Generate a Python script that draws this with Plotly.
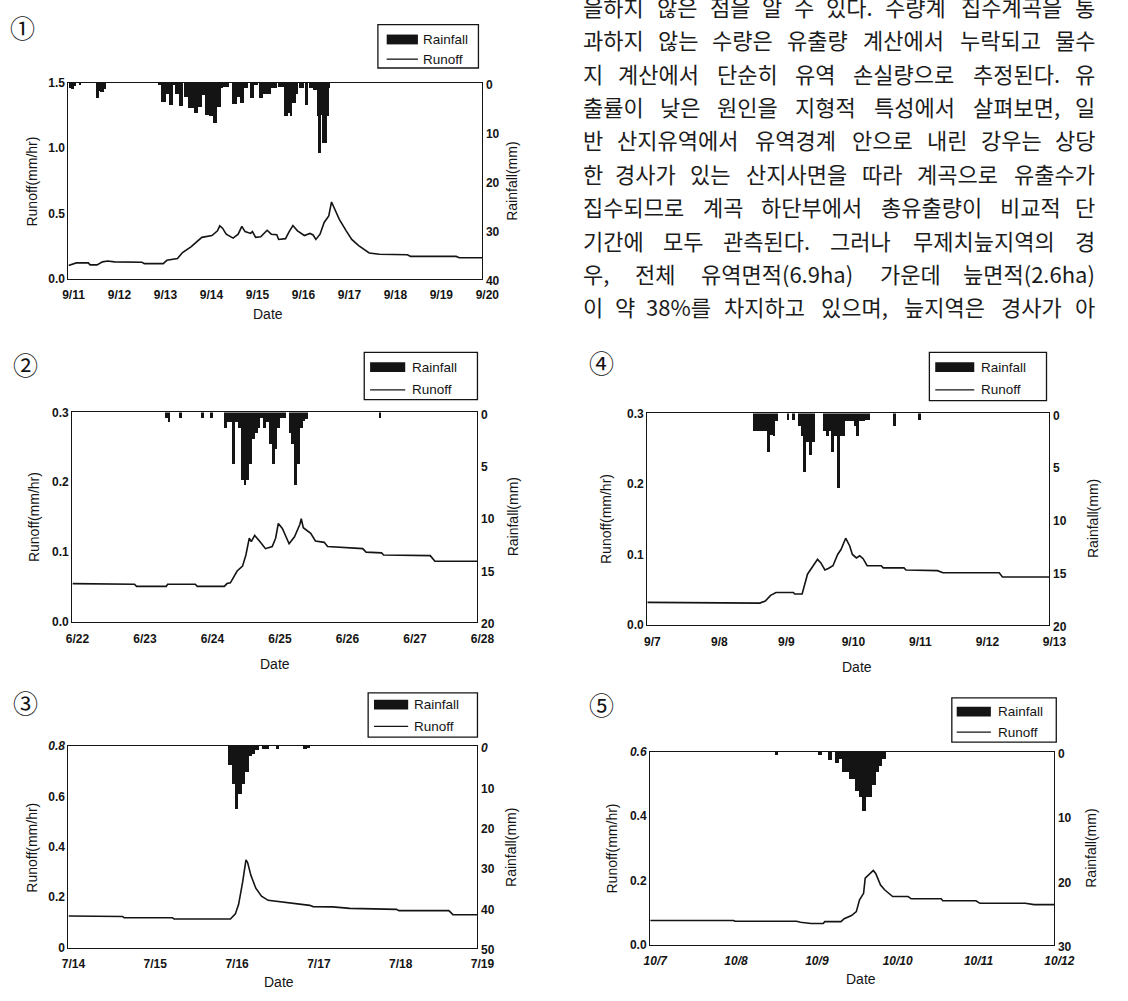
import plotly.graph_objects as go

W, H = 1128, 1001

# ---------------- data ----------------
# Panel 1 : 9/11 - 9/20
p1_dates = ["9/11", "9/12", "9/13", "9/14", "9/15", "9/16", "9/17", "9/18", "9/19", "9/20"]
p1_runoff_t = [0, 0.17, 0.43, 0.47, 0.62, 0.74, 0.85, 1.0, 1.6, 1.65, 2.06, 2.14, 2.37, 2.48, 2.67,
               2.9, 3.12, 3.24, 3.29, 3.35, 3.43, 3.58, 3.69, 3.77, 3.84, 3.96, 4.0, 4.07, 4.18,
               4.32, 4.41, 4.53, 4.57, 4.72, 4.79, 4.88, 4.98, 5.13, 5.25, 5.32, 5.38, 5.47, 5.56,
               5.66, 5.72, 5.78, 5.89, 6.04, 6.16, 6.31, 6.54, 6.76, 7.37, 7.44, 8.43, 8.5, 9.0]
p1_runoff_q = [0.10, 0.12, 0.12, 0.105, 0.105, 0.128, 0.135, 0.128, 0.125, 0.115, 0.115, 0.14,
               0.153, 0.20, 0.245, 0.316, 0.33, 0.366, 0.404, 0.386, 0.34, 0.31, 0.34, 0.40,
               0.36, 0.346, 0.36, 0.316, 0.32, 0.37, 0.34, 0.336, 0.30, 0.306, 0.354, 0.406,
               0.366, 0.33, 0.346, 0.334, 0.30, 0.34, 0.43, 0.48, 0.587, 0.54, 0.454, 0.366,
               0.30, 0.253, 0.196, 0.186, 0.183, 0.17, 0.17, 0.16, 0.16]
p1_rain_hour = [1, 2, 3, 6, 15, 16, 17, 18, 19, 47, 48, 49, 50, 51, 52, 53, 54, 55, 56, 57, 58,
                59, 61, 62, 63, 64, 65, 66, 67, 68, 69, 70, 71, 72, 73, 74, 75, 76, 77, 78, 79,
                80, 81, 82, 83, 86, 87, 88, 89, 90, 91, 92, 93, 95, 96, 97, 98, 100, 101, 102,
                103, 104, 105, 106, 107, 108, 110, 111, 112, 113, 114, 115, 116, 117, 118, 119,
                121, 122, 124, 126, 127, 128, 129, 130, 131, 132, 133, 134, 135, 136]
p1_rain_mm = [1.0, 1.2, 0.6, 0.5, 3.1, 1.6, 1.8, 1.8, 1.2, 0.3, 0.5, 3.8, 3.8, 2.3, 2.3, 4.5,
              4.5, 0.5, 2.3, 2.2, 4.7, 4.7, 2.8, 2.8, 5.1, 5.1, 5.1, 6.2, 6.2, 4.8, 4.8, 2.5,
              2.5, 6.5, 6.5, 6.8, 6.8, 8.2, 8.2, 4.8, 4.8, 1.1, 0.8, 0.8, 0.8, 4.3, 4.3, 2.8,
              2.8, 4.1, 4.1, 1.1, 1.1, 3.1, 3.1, 0.5, 0.5, 3.0, 3.0, 2.3, 2.3, 2.3, 2.3, 1.1,
              1.1, 1.1, 0.8, 0.8, 0.8, 6.8, 6.8, 6.2, 6.8, 4.1, 4.1, 2.3, 1.1, 1.1, 4.5, 1.1,
              1.1, 1.4, 1.4, 6.8, 14.2, 6.5, 12.2, 12.2, 6.8, 1.1]
p1_runoff_ticks = [0.0, 0.5, 1.0, 1.5]
p1_runoff_labels = ["0.0", "0.5", "1.0", "1.5"]
p1_rain_ticks = [0, 10, 20, 30, 40]
p1_rain_labels = ["0", "10", "20", "30", "40"]

# Panel 2 : 6/22 - 6/28
p2_dates = ["6/22", "6/23", "6/24", "6/25", "6/26", "6/27", "6/28"]
p2_runoff_t = [0, 0.92, 0.95, 1.39, 1.41, 1.82, 1.85, 2.25, 2.29, 2.34, 2.44, 2.52, 2.57, 2.62,
               2.65, 2.70, 2.78, 2.86, 2.96, 3.01, 3.05, 3.11, 3.21, 3.29, 3.37, 3.39, 3.42,
               3.53, 3.60, 3.73, 3.78, 4.30, 4.35, 4.58, 4.61, 5.30, 5.37, 6.0]
p2_runoff_q = [0.055, 0.054, 0.051, 0.051, 0.054, 0.054, 0.051, 0.051, 0.055, 0.056, 0.073,
               0.080, 0.096, 0.12, 0.115, 0.124, 0.115, 0.105, 0.108, 0.12, 0.141, 0.134, 0.112,
               0.122, 0.14, 0.148, 0.135, 0.127, 0.116, 0.114, 0.108, 0.105, 0.10, 0.099, 0.096,
               0.095, 0.087, 0.087]
p2_rain_hour = [33, 34, 38, 46, 49, 54, 55, 56, 57, 58, 59, 60, 61, 62, 63, 64, 65, 66, 67, 68,
                69, 70, 71, 72, 73, 74, 75, 77, 78, 79, 80, 81, 82, 83, 109]
p2_rain_mm = [0.6, 1.0, 0.6, 0.6, 0.6, 1.5, 1.0, 1.0, 5.0, 1.0, 1.5, 6.5, 7.0, 6.5, 5.0, 2.6,
              2.0, 1.5, 0.6, 1.5, 1.0, 3.1, 5.0, 3.5, 1.5, 0.6, 0.6, 2.0, 3.1, 7.0, 5.0, 1.5,
              0.9, 0.7, 0.6]
p2_runoff_ticks = [0.0, 0.1, 0.2, 0.3]
p2_runoff_labels = ["0.0", "0.1", "0.2", "0.3"]
p2_rain_ticks = [0, 5, 10, 15, 20]
p2_rain_labels = ["0", "5", "10", "15", "20"]

# Panel 3 : 7/14 - 7/19
p3_dates = ["7/14", "7/15", "7/16", "7/17", "7/18", "7/19"]
p3_runoff_t = [0, 0.66, 0.68, 1.27, 1.29, 1.98, 2.04, 2.08, 2.13, 2.17, 2.19, 2.23, 2.29, 2.36,
               2.44, 2.61, 2.78, 2.95, 2.99, 3.23, 3.44, 4.01, 4.04, 4.65, 4.70, 5.0]
p3_runoff_q = [0.126, 0.124, 0.119, 0.119, 0.114, 0.114, 0.134, 0.172, 0.262, 0.348, 0.338,
               0.287, 0.236, 0.204, 0.188, 0.182, 0.175, 0.168, 0.163, 0.162, 0.156, 0.152,
               0.147, 0.147, 0.131, 0.131]
p3_rain_hour = [47, 48, 49, 50, 51, 52, 53, 54, 55, 57, 58, 61, 69, 70]
p3_rain_mm = [4.8, 9.3, 15.5, 12.0, 9.3, 6.4, 2.6, 1.9, 1.1, 0.7, 0.7, 0.7, 0.8, 0.3]
p3_runoff_ticks = [0.0, 0.2, 0.4, 0.6, 0.8]
p3_runoff_labels = ["0", "0.2", "0.4", "0.6", "<i>0.8</i>"]
p3_rain_ticks = [0, 10, 20, 30, 40, 50]
p3_rain_labels = ["<i>0</i>", "10", "20", "30", "40", "50"]

# Panel 4 : 9/7 - 9/13
p4_dates = ["9/7", "9/8", "9/9", "9/10", "9/11", "9/12", "9/13"]
p4_runoff_t = [0, 1.26, 1.28, 1.68, 1.76, 1.84, 1.92, 2.18, 2.20, 2.31, 2.39, 2.47, 2.54, 2.59,
               2.65, 2.70, 2.77, 2.84, 2.89, 2.96, 3.02, 3.06, 3.12, 3.17, 3.22, 3.28, 3.49,
               3.52, 3.83, 3.86, 4.33, 4.41, 5.25, 5.30, 6.0]
p4_runoff_q = [0.032, 0.032, 0.031, 0.031, 0.034, 0.042, 0.046, 0.046, 0.044, 0.044, 0.072,
               0.084, 0.093, 0.088, 0.078, 0.080, 0.084, 0.10, 0.107, 0.123, 0.112, 0.10,
               0.095, 0.098, 0.094, 0.084, 0.084, 0.081, 0.081, 0.078, 0.077, 0.074, 0.074,
               0.068, 0.068]
p4_rain_hour = [38, 39, 40, 41, 42, 43, 44, 45, 46, 50, 52, 54, 55, 56, 57, 58, 59, 63, 64, 65,
                66, 67, 68, 69, 70, 71, 72, 73, 74, 75, 76, 77, 78, 79, 88, 97]
p4_rain_mm = [1.7, 1.7, 1.7, 1.7, 1.7, 3.7, 2.1, 2.2, 0.8, 0.7, 0.7, 1.2, 2.2, 5.6, 2.7, 4.0,
              2.7, 1.7, 2.2, 1.7, 3.7, 2.2, 7.1, 2.2, 2.2, 0.8, 0.8, 0.8, 1.2, 2.2, 0.8, 0.8,
              0.7, 0.7, 1.2, 0.7]
p4_runoff_ticks = [0.0, 0.1, 0.2, 0.3]
p4_runoff_labels = ["0.0", "0.1", "0.2", "0.3"]
p4_rain_ticks = [0, 5, 10, 15, 20]
p4_rain_labels = ["0", "5", "10", "15", "20"]

# Panel 5 : 10/7 - 10/12
p5_dates = ["<i>10/7</i>", "<i>10/8</i>", "<i>10/9</i>", "<i>10/10</i>", "<i>10/11</i>", "<i>10/12</i>"]
p5_runoff_t = [0, 1.03, 1.05, 1.81, 1.86, 1.99, 2.14, 2.16, 2.36, 2.40, 2.49, 2.55, 2.59, 2.64,
               2.66, 2.72, 2.76, 2.79, 2.85, 2.90, 3.00, 3.19, 3.23, 3.60, 3.62, 4.03, 4.08,
               4.64, 4.75, 5.0]
p5_runoff_q = [0.0755, 0.0755, 0.073, 0.073, 0.070, 0.066, 0.066, 0.072, 0.072, 0.081, 0.091,
               0.103, 0.140, 0.160, 0.207, 0.222, 0.231, 0.222, 0.186, 0.171, 0.150, 0.150,
               0.143, 0.143, 0.137, 0.137, 0.129, 0.129, 0.125, 0.125]
p5_rain_hour = [37, 50, 53, 55, 56, 57, 58, 59, 60, 61, 62, 63, 64, 65, 66, 67, 68, 69]
p5_rain_mm = [0.5, 0.5, 1.3, 1.7, 1.1, 3.1, 3.1, 4.2, 4.2, 6.1, 7.0, 9.2, 7.0, 7.0, 5.1, 3.1,
              2.2, 1.1]
p5_runoff_ticks = [0.0, 0.2, 0.4, 0.6]
p5_runoff_labels = ["0.0", "0.2", "0.4", "<i>0.6</i>"]
p5_rain_ticks = [0, 10, 20, 30]
p5_rain_labels = ["0", "10", "20", "30"]

panel_numbers = ["①", "②", "③", "④", "⑤"]

text_lines = [
    "을하지 않은 점을 알 수 있다. 수량계 집수계곡을 통",
    "과하지 않는 수량은 유출량 계산에서 누락되고 물수",
    "지 계산에서 단순히 유역 손실량으로 추정된다. 유",
    "출률이 낮은 원인을 지형적 특성에서 살펴보면, 일",
    "반 산지유역에서 유역경계 안으로 내린 강우는 상당",
    "한 경사가 있는 산지사면을 따라 계곡으로 유출수가",
    "집수되므로 계곡 하단부에서 총유출량이 비교적 단",
    "기간에 모두 관측된다. 그러나 무제치늪지역의 경",
    "우, 전체 유역면적(6.9ha) 가운데 늪면적(2.6ha)",
    "이 약 38%를 차지하고 있으며, 늪지역은 경사가 아",
]

# ---------------- layout geometry (pixels) ----------------
panels = [
    dict(dates=p1_dates, rt=p1_runoff_t, rq=p1_runoff_q, hh=p1_rain_hour, mm=p1_rain_mm,
         lt=p1_runoff_ticks, ll=p1_runoff_labels, qt=p1_rain_ticks, ql=p1_rain_labels,
         ymax=1.5, rmax=40, box=(63, 487, 77, 276),
         leg=(380, 483, 18, 62, 389, 421, 424, 33, 53),
         num=(16, 20), ytit=(26, 177), rtit=(518, 177), dtit=(267, 312)),
    dict(dates=p2_dates, rt=p2_runoff_t, rq=p2_runoff_q, hh=p2_rain_hour, mm=p2_rain_mm,
         lt=p2_runoff_ticks, ll=p2_runoff_labels, qt=p2_rain_ticks, ql=p2_rain_labels,
         ymax=0.3, rmax=20, box=(67, 482, 412, 625),
         leg=(366, 482, 351, 399, 372, 408, 413, 366, 389),
         num=(19, 363), ytit=(27, 518), rtit=(518, 518), dtit=(275, 668)),
    dict(dates=p3_dates, rt=p3_runoff_t, rq=p3_runoff_q, hh=p3_rain_hour, mm=p3_rain_mm,
         lt=p3_runoff_ticks, ll=p3_runoff_labels, qt=p3_rain_ticks, ql=p3_rain_labels,
         ymax=0.8, rmax=50, box=(63, 482, 751, 956),
         leg=(370, 482, 697, 742, 376, 411, 415, 709, 731),
         num=(19, 706), ytit=(26, 854), rtit=(517, 854), dtit=(279, 991)),
    dict(dates=p4_dates, rt=p4_runoff_t, rq=p4_runoff_q, hh=p4_rain_hour, mm=p4_rain_mm,
         lt=p4_runoff_ticks, ll=p4_runoff_labels, qt=p4_rain_ticks, ql=p4_rain_labels,
         ymax=0.3, rmax=20, box=(656, 1068, 413, 628),
         leg=(945, 1065, 351, 400, 951, 991, 996, 366, 389),
         num=(609, 361), ytit=(613, 520), rtit=(1112, 520), dtit=(871, 671)),
    dict(dates=p5_dates, rt=p5_runoff_t, rq=p5_runoff_q, hh=p5_rain_hour, mm=p5_rain_mm,
         lt=p5_runoff_ticks, ll=p5_runoff_labels, qt=p5_rain_ticks, ql=p5_rain_labels,
         ymax=0.6, rmax=30, box=(659, 1073, 757, 953),
         leg=(968, 1075, 702, 747, 973, 1008, 1013, 716, 737),
         num=(609, 708), ytit=(620, 855), rtit=(1111, 855), dtit=(875, 988)),
]


def fx(x):
    return x / W


def fy(y):
    return 1 - y / H


INK = "#141414"
SANS = "Arial, Liberation Sans, sans-serif"
KR = "Noto Sans CJK KR"
tick_font = dict(family=SANS, size=12, color=INK, weight="bold")
title_font = dict(family=SANS, size=14, color=INK)

fig = go.Figure()
layout = dict(width=W, height=H, margin=dict(l=0, r=0, t=0, b=0), autosize=False,
              paper_bgcolor="white", plot_bgcolor="white", showlegend=False,
              bargap=0, barmode="overlay")
shapes = []
annotations = []

for i, p in enumerate(panels, start=1):
    L, R, T, B = p["box"]
    nd = len(p["dates"]) - 1
    xa = "x" if i == 1 else f"x{i}"
    ya = "y" if i == 1 else f"y{i}"
    yr = f"y{i + 5}"

    fig.add_trace(go.Bar(x=[(h + 0.5) / 24 for h in p["hh"]], y=p["mm"], width=1 / 24,
                         marker=dict(color=INK, line=dict(width=0)),
                         xaxis=xa, yaxis=yr, name="Rainfall"))
    fig.add_trace(go.Scatter(x=p["rt"], y=p["rq"], mode="lines",
                             line=dict(color=INK, width=1.6),
                             xaxis=xa, yaxis=ya, name="Runoff"))

    layout["xaxis" if i == 1 else f"xaxis{i}"] = dict(
        domain=[fx(L), fx(R)], anchor=ya, range=[0, nd],
        tickvals=list(range(nd + 1)), ticktext=p["dates"],
        showline=True, mirror=True, linecolor=INK, linewidth=1.4,
        ticks="", showgrid=False, zeroline=False, tickfont=tick_font,
        ticklabelshift=5, ticklabelstandoff=5, tickangle=0)
    layout["yaxis" if i == 1 else f"yaxis{i}"] = dict(
        domain=[fy(B), fy(T)], anchor=xa, range=[0, p["ymax"]],
        tickvals=p["lt"], ticktext=p["ll"],
        showline=True, linecolor=INK, linewidth=1.4,
        ticks="", showgrid=False, zeroline=False, tickfont=tick_font)
    layout[f"yaxis{i + 5}"] = dict(
        overlaying=ya, side="right", anchor=xa, range=[p["rmax"], 0],
        tickvals=p["qt"], ticktext=p["ql"],
        showline=True, linecolor=INK, linewidth=1.4,
        ticks="", showgrid=False, zeroline=False, tickfont=tick_font,
        ticklabelshift=-2)

    # legend box drawn by hand
    bl, br, bt, bb, sl, sr, tx, r1, r2 = p["leg"]
    shapes.append(dict(type="rect", xref="paper", yref="paper", x0=fx(bl), x1=fx(br),
                       y0=fy(bb), y1=fy(bt), line=dict(color=INK, width=1.3)))
    shapes.append(dict(type="rect", xref="paper", yref="paper", x0=fx(sl), x1=fx(sr),
                       y0=fy(r1 + 5), y1=fy(r1 - 5), fillcolor=INK, line=dict(width=0)))
    shapes.append(dict(type="line", xref="paper", yref="paper", x0=fx(sl), x1=fx(sr),
                       y0=fy(r2), y1=fy(r2), line=dict(color=INK, width=1.3)))
    for txt, ry in (("Rainfall", r1), ("Runoff", r2)):
        annotations.append(dict(text=txt, x=fx(tx), y=fy(ry), xref="paper", yref="paper",
                                xanchor="left", yanchor="middle", showarrow=False,
                                font=dict(family=SANS, size=13.5, color=INK)))

    # titles
    annotations.append(dict(text="Runoff(mm/hr)", x=fx(p["ytit"][0]), y=fy(p["ytit"][1]),
                            xref="paper", yref="paper", textangle=-90, showarrow=False,
                            xanchor="center", yanchor="middle", font=title_font))
    annotations.append(dict(text="Rainfall(mm)", x=fx(p["rtit"][0]), y=fy(p["rtit"][1]),
                            xref="paper", yref="paper", textangle=-90, showarrow=False,
                            xanchor="center", yanchor="middle", font=title_font))
    annotations.append(dict(text="Date", x=fx(p["dtit"][0]), y=fy(p["dtit"][1]),
                            xref="paper", yref="paper", showarrow=False,
                            xanchor="center", yanchor="middle", font=title_font))
    annotations.append(dict(text=panel_numbers[i - 1], x=fx(p["num"][0]), y=fy(p["num"][1]),
                            xref="paper", yref="paper", showarrow=False,
                            xanchor="center", yanchor="middle",
                            font=dict(family=KR, size=25, color=INK)))

# ---------------- justified Korean paragraph ----------------
TXT_L, TXT_R = 588, 1117
TXT_Y0, TXT_DY = -1.0, 33.9
FS = 22


def est_width(s):
    w = 0.0
    for c in s:
        if ord(c) >= 0x1100:
            w += 1.0
        elif c in ".,":
            w += 0.27
        elif c in "()":
            w += 0.33
        elif c == "%":
            w += 0.84
        else:
            w += 0.53
    return w * FS


for li, line in enumerate(text_lines):
    ypx = TXT_Y0 + li * TXT_DY
    words = line.split(" ")
    widths = [est_width(wd) for wd in words]
    gap = (TXT_R - TXT_L - sum(widths)) / (len(words) - 1)
    pos = TXT_L
    for wi, (wd, ww) in enumerate(zip(words, widths)):
        if wi == 0:
            xv, anc = pos, "left"
        elif wi == len(words) - 1:
            xv, anc = TXT_R, "right"
        else:
            xv, anc = pos + ww / 2, "center"
        annotations.append(dict(text=wd, x=fx(xv), y=fy(ypx), xref="paper", yref="paper",
                                xanchor=anc, yanchor="middle", showarrow=False,
                                font=dict(family=KR, size=FS, color="#1c1c1c")))
        pos += ww + gap

layout["shapes"] = shapes
layout["annotations"] = annotations
fig.update_layout(**layout)
fig.write_html("out.html")
